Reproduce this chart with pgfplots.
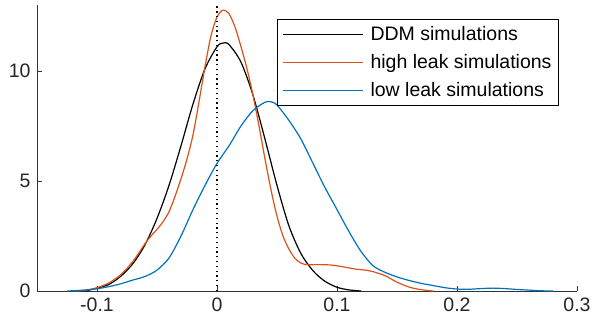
\documentclass[border=0pt]{standalone}
\usepackage{pgfplots}
\pgfplotsset{compat=1.18}
\usepackage{fontspec}
\setmainfont{Liberation Sans}
\definecolor{mlorange}{RGB}{217,83,25}
\definecolor{mlblue}{RGB}{0,114,189}
\begin{document}
\begin{tikzpicture}
\useasboundingbox (-37pt,-36pt) rectangle (555pt,291pt);
\begin{axis}[
  at={(0pt,0pt)}, anchor=south west,
  scale only axis, width=540pt, height=286pt,
  xmin=-0.15, xmax=0.3, ymin=0, ymax=13,
  axis x line*=bottom, axis y line*=left,
  x axis line style={-}, y axis line style={-},
  tick align=inside, major tick length=5pt,
  xtick={-0.1,0,0.1,0.2,0.3}, xticklabels={-0.1,0,0.1,0.2,0.3},
  ytick={0,5,10}, yticklabels={0,5,10},
  ticklabel style={font=\fontsize{19.5}{22}\selectfont, text=black!85},
  xticklabel style={yshift=-3pt},
  yticklabel style={xshift=-3pt},
  axis line style={black!80, line width=0.6pt},
  every tick/.style={black!80, line width=0.6pt},
  legend style={at={(rel axis cs:0.4444,0.951)}, anchor=north west,
    draw=black, line width=0.7pt, font=\fontsize{19.5}{22}\selectfont,
    inner xsep=5pt, inner ysep=5pt, row sep=8.5pt, column sep=5pt, cells={anchor=west}},
  legend image code/.code={\draw[#1, line width=1.2pt] (0pt,0pt) -- (80pt,0pt);},
  clip=false,
]
\addplot[black, line width=1.2pt, smooth, tension=0.5] coordinates {
(-0.11,0) (-0.10,0.13) (-0.09,0.3) (-0.08,0.68) (-0.07,1.25) (-0.06,2.1) (-0.05,3.3) (-0.04,4.8) (-0.03,6.6) (-0.02,8.5) (-0.01,10.1) (0,11.1) (0.005,11.27) (0.01,11.2) (0.02,10.4) (0.03,8.9) (0.04,6.9) (0.05,4.8) (0.06,2.95) (0.07,1.7) (0.08,0.92) (0.09,0.44) (0.10,0.17) (0.11,0.05) (0.12,0.0)
};
\addlegendentry{DDM simulations}
\addplot[mlorange, line width=1.2pt, smooth, tension=0.5] coordinates {
(-0.12,0) (-0.11,0.04) (-0.10,0.15) (-0.09,0.37) (-0.08,0.75) (-0.07,1.35) (-0.06,2.15) (-0.055,2.5) (-0.05,2.8) (-0.045,3.15) (-0.04,3.6) (-0.035,4.3) (-0.03,5.1) (-0.025,6.0) (-0.02,7.1) (-0.015,8.6) (-0.01,10.2) (-0.005,11.6) (0,12.45) (0.005,12.77) (0.01,12.6) (0.015,12.0) (0.02,11.1) (0.025,10.1) (0.03,8.9) (0.035,7.5) (0.04,6.0) (0.045,4.6) (0.05,3.4) (0.055,2.5) (0.06,1.9) (0.065,1.48) (0.07,1.27) (0.075,1.2) (0.085,1.2) (0.095,1.18) (0.105,1.1) (0.115,1.0) (0.125,0.94) (0.13,0.88) (0.14,0.7) (0.145,0.55) (0.15,0.4) (0.16,0.18) (0.17,0.06) (0.18,0)
};
\addlegendentry{high leak simulations}
\addplot[mlblue, line width=1.2pt, smooth, tension=0.5] coordinates {
(-0.125,0) (-0.11,0.04) (-0.1,0.1) (-0.09,0.2) (-0.08,0.33) (-0.07,0.5) (-0.06,0.66) (-0.05,0.95) (-0.04,1.5) (-0.03,2.5) (-0.02,3.7) (-0.01,4.8) (0,5.8) (0.01,6.6) (0.02,7.5) (0.03,8.2) (0.04,8.58) (0.045,8.6) (0.05,8.45) (0.06,7.75) (0.07,6.9) (0.08,5.8) (0.09,4.7) (0.1,3.7) (0.11,2.7) (0.12,1.8) (0.13,1.15) (0.14,0.85) (0.15,0.64) (0.16,0.48) (0.17,0.35) (0.18,0.25) (0.19,0.15) (0.2,0.09) (0.21,0.08) (0.22,0.11) (0.23,0.13) (0.24,0.11) (0.25,0.07) (0.26,0.04) (0.27,0.01) (0.28,0)
};
\addlegendentry{low leak simulations}
\addplot[black, line width=1.3pt, dash pattern=on 1.3pt off 3.5pt, forget plot] coordinates {(0,0) (0,13)};
\end{axis}
\end{tikzpicture}
\end{document}
